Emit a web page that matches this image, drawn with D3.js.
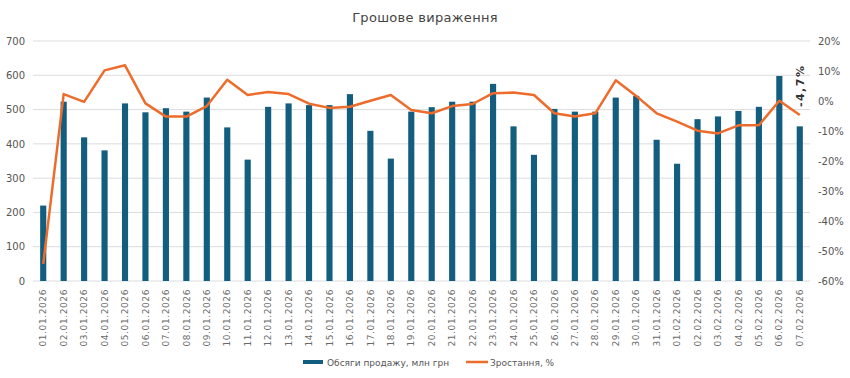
<!DOCTYPE html>
<html><head><meta charset="utf-8">
<script src="https://cdn.jsdelivr.net/npm/d3@7"></script>
<style>
body{margin:0;background:#fff;}
text{font-family:"DejaVu Sans",sans-serif;}
</style></head>
<body><svg id="c" width="850" height="378"></svg>
<script>
const dates = ["01.01.2026","02.01.2026","03.01.2026","04.01.2026","05.01.2026","06.01.2026","07.01.2026","08.01.2026","09.01.2026","10.01.2026","11.01.2026","12.01.2026","13.01.2026","14.01.2026","15.01.2026","16.01.2026","17.01.2026","18.01.2026","19.01.2026","20.01.2026","21.01.2026","22.01.2026","23.01.2026","24.01.2026","25.01.2026","26.01.2026","27.01.2026","28.01.2026","29.01.2026","30.01.2026","31.01.2026","01.02.2026","02.02.2026","03.02.2026","04.02.2026","05.02.2026","06.02.2026","07.02.2026"];
const sales = [220,523,419,381,518,492,504,494,535,448,354,508,518,513,513,545,438,357,494,507,523,523,575,451,368,502,494,494,535,540,412,342,472,480,496,508,598,451];
const growth = [-54.3,2.3,-0.3,10.2,11.9,-0.8,-5.2,-5.2,-1.7,7.1,2.0,3.0,2.3,-0.9,-2.3,-1.9,0.1,2.0,-3.0,-4.1,-1.7,-1.0,2.6,2.8,2.0,-4.1,-5.2,-4.1,6.9,1.7,-4.1,-6.9,-9.9,-10.8,-8.1,-8.1,0.1,-4.7];
const leftTicks = [0,100,200,300,400,500,600,700];
const rightTicks = [-60,-50,-40,-30,-20,-10,0,10,20];
const title = "Грошове вираження";
const legendNames = ["Обсяги продажу, млн грн","Зростання, %"];
const lastLabel = "-4,7%";

const svg = d3.select("#c");
const L=33, R=810, T=41, B=281;
const x = d3.scaleBand().domain(dates).range([L,R]).paddingInner(0.7).paddingOuter(0.35);
const y = d3.scaleLinear().domain([0,700]).range([B,T]);
const y2 = d3.scaleLinear().domain([-60,20]).range([B,T]);
const barCol="#135d7e", lineCol="#ee6c2b", txtCol="#555";

svg.append("text").attr("x",425).attr("y",22).attr("text-anchor","middle")
  .attr("font-size",13).attr("fill","#444").attr("letter-spacing","0.3px").text(title);

// grid
svg.append("g").selectAll("line").data(leftTicks).join("line")
  .attr("x1",L).attr("x2",R).attr("y1",d=>y(d)).attr("y2",d=>y(d))
  .attr("stroke","#dcdcdc").attr("stroke-width",1);

// left axis
const ga = svg.append("g").attr("transform",`translate(${L},0)`)
  .call(d3.axisLeft(y).tickValues(leftTicks).tickSize(0).tickPadding(8));
ga.select(".domain").remove();
ga.selectAll("text").attr("font-size",10).attr("fill",txtCol).attr("font-family","DejaVu Sans");

const gr = svg.append("g").attr("transform",`translate(${R},0)`)
  .call(d3.axisRight(y2).tickValues(rightTicks).tickSize(0).tickPadding(8).tickFormat(d=>d+"%"));
gr.select(".domain").remove();
gr.selectAll("text").attr("font-size",10).attr("fill",txtCol).attr("font-family","DejaVu Sans");

// bars
svg.append("g").selectAll("rect").data(sales).join("rect")
  .attr("x",(d,i)=>x(dates[i])).attr("width",x.bandwidth())
  .attr("y",d=>y(d)).attr("height",d=>B-y(d)).attr("fill",barCol);

// x axis labels
const gx = svg.append("g").attr("transform",`translate(0,${B})`)
  .call(d3.axisBottom(x).tickSize(0).tickPadding(0));
gx.select(".domain").remove();
gx.selectAll("text").attr("font-size",9).attr("fill","#6a6a6a").attr("font-family","DejaVu Sans")
  .attr("text-anchor","end").attr("dy","0.35em").attr("letter-spacing","0.6px")
  .attr("transform","translate(0,8) rotate(-90)").attr("dx","0").attr("y",0);

// line
const line = d3.line().x((d,i)=>x(dates[i])+x.bandwidth()/2).y(d=>y2(d));
svg.append("path").datum(growth).attr("d",line).attr("fill","none")
  .attr("stroke",lineCol).attr("stroke-width",2.5).attr("stroke-linejoin","round");

// last label
const li = growth.length-1;
svg.append("text").attr("transform",`translate(${x(dates[li])+x.bandwidth()/2+4},${y2(growth[li])-8}) rotate(-90)`)
  .attr("font-size",11).attr("font-weight","bold").attr("fill","#333").attr("letter-spacing","1.5px")
  .text(lastLabel);

// legend
const lg = svg.append("g");
lg.append("rect").attr("x",303).attr("y",360).attr("width",20).attr("height",4).attr("fill",barCol);
lg.append("text").attr("x",327).attr("y",365.5).attr("font-size",9).attr("fill",txtCol).text(legendNames[0]);
lg.append("line").attr("x1",466).attr("x2",488).attr("y1",362).attr("y2",362).attr("stroke",lineCol).attr("stroke-width",2.5);
lg.append("text").attr("x",490).attr("y",365.5).attr("font-size",9).attr("fill",txtCol).text(legendNames[1]);
</script></body></html>
